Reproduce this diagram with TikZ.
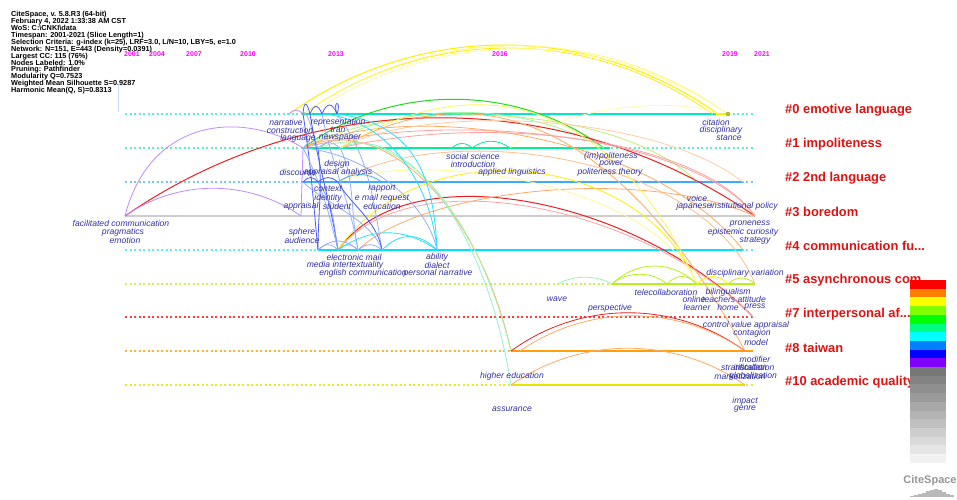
\documentclass[tikz,border=0pt]{standalone}
\usepackage{fontspec}
\setmainfont{Liberation Sans}
\usetikzlibrary{calc}
\definecolor{labblue}{RGB}{50,50,165}
\definecolor{clred}{RGB}{222,18,18}
\definecolor{yrmag}{RGB}{255,0,255}
\definecolor{laneA}{RGB}{0,232,200}
\definecolor{laneB}{RGB}{0,238,150}
\definecolor{laneC}{RGB}{60,170,255}
\definecolor{laneD}{RGB}{205,205,205}
\definecolor{laneE}{RGB}{0,225,255}
\definecolor{laneF}{RGB}{185,240,30}
\definecolor{laneG}{RGB}{245,30,30}
\definecolor{laneH}{RGB}{255,160,10}
\definecolor{laneI}{RGB}{230,230,0}
\definecolor{ayel}{RGB}{255,240,0}
\definecolor{ayel2}{RGB}{255,248,120}
\definecolor{agreen}{RGB}{30,220,30}
\definecolor{ared}{RGB}{240,30,30}
\definecolor{apink}{RGB}{255,160,160}
\definecolor{apurp}{RGB}{190,140,255}
\definecolor{aorange}{RGB}{255,170,100}
\definecolor{apgreen}{RGB}{160,245,170}
\definecolor{ablue}{RGB}{70,90,255}
\definecolor{albue}{RGB}{150,175,255}
\definecolor{acyan}{RGB}{40,225,255}
\begin{document}
\begin{tikzpicture}[x=1pt,y=-1pt,
  hdr/.style={anchor=west,inner sep=0pt,font=\fontsize{7.3}{7.5}\selectfont\bfseries},
  yr/.style={inner sep=0pt,text=yrmag,font=\fontsize{7}{7.5}\selectfont\bfseries},
  lab/.style={inner sep=0pt,text=labblue,font=\fontsize{8.6}{9}\selectfont\itshape},
  cl/.style={anchor=west,inner sep=0pt,text=clred,font=\fontsize{12.9}{14}\selectfont\bfseries},
  lanedash/.style={line width=1.05pt,dash pattern=on 2.4pt off 2.1pt},
  lanesolid/.style={line width=2pt},
  arc/.style={line width=0.8pt},
]
\useasboundingbox (0,0) rectangle (957,499);
\fill[white] (0,0) rectangle (957,499);

% header
\foreach \t [count=\i from 0] in {CiteSpace{,} v. 5.8.R3 (64-bit),
  February 4{,} 2022 1:33:38 AM CST,
  WoS: C:\textbackslash CNKI\textbackslash data,
  Timespan: 2001-2021 (Slice Length=1),
  Selection Criteria: g-index (k=25){,} LRF=3.0{,} L/N=10{,} LBY=5{,} e=1.0,
  Network: N=151{,} E=443 (Density=0.0391),
  Largest CC: 115 (76\%),
  Nodes Labeled: 1.0\%,
  Pruning: Pathfinder,
  Modularity Q=0.7523,
  Weighted Mean Silhouette S=0.9287,
  Harmonic Mean(Q{,} S)=0.8313}
  \node[hdr] (h\i) at (11,{14.5+6.95*\i}) {\t};

\draw[line width=1pt,color={rgb,255:red,200;green,220;blue,255}] (118,84) -- (118,112);

% years
\foreach \x/\t in {132/2001,157/2004,194/2007,248/2010,336/2013,500/2016,730/2019,762/2021}
  \node[yr] (yr\t) at (\x,54) {\t};

% lanes dashed
\draw[lanedash,laneA!65!white] (125,114) -- (755,114);
\draw[lanedash,laneB!65!white] (125,148) -- (755,148);
\draw[lanedash,laneC!70!white] (125,182) -- (755,182);
\draw[line width=1.6pt,laneD] (125,216) -- (755,216);
\draw[lanedash,laneE!65!white] (125,250) -- (755,250);
\draw[lanedash,laneF!75!white] (125,284) -- (755,284);
\draw[lanedash,laneG!85!white] (125,317) -- (755,317);
\draw[lanedash,laneH!80!white] (125,351) -- (755,351);
\draw[lanedash,laneI!85!white] (125,385) -- (755,385);
% lanes solid
\draw[lanesolid,laneA] (303,114) -- (716,114);
\draw[lanesolid,ayel] (716,114) -- (728,114);
\draw[lanesolid,laneB] (303,148) -- (610,148);
\draw[lanesolid,laneC] (303,182) -- (743,182);
\draw[lanesolid,laneE] (318,250) -- (743,250);
\draw[lanesolid,laneF] (612,284) -- (755,284);
\draw[lanesolid,laneH] (511,351) -- (753,351);
\draw[lanesolid,laneI] (511,385) -- (745,385);

% node points
\coordinate (fc) at (125,216);
\coordinate (a0) at (303,114); \coordinate (a0b) at (310,114);
\coordinate (a0c) at (322,114); \coordinate (a0d) at (337,114);
\coordinate (a0p) at (289,114);
\coordinate (a1) at (303,148); \coordinate (a1b) at (318,148); \coordinate (a1c) at (340,148);
\coordinate (a2) at (303,182); \coordinate (a2b) at (318,182);
\coordinate (a2c) at (338,182); \coordinate (a2d) at (382,182);
\coordinate (a3) at (301,216);
\coordinate (a4) at (318,250); \coordinate (a4b) at (338,250); \coordinate (a4c) at (358,250);
\coordinate (a4d) at (382,250); \coordinate (a4e) at (437,250);
\coordinate (cit) at (728,114); \coordinate (cit0) at (718,114); \coordinate (cit1) at (713,114);
\coordinate (ss0) at (452,148); \coordinate (ss) at (472,148); \coordinate (al) at (510,148);
\coordinate (imp) at (604,148);
\coordinate (voice) at (697,182); \coordinate (st2) at (743,182);
\coordinate (inst) at (755,216);
\coordinate (pron) at (743,250);
\coordinate (w5) at (558,284); \coordinate (t5) at (612,284); \coordinate (t5b) at (667,284);
\coordinate (bil) at (697,284); \coordinate (t5c) at (728,284); \coordinate (dv) at (755,284);
\coordinate (ctrl) at (753,317);
\coordinate (he) at (511,351); \coordinate (mod) at (745,351); \coordinate (mod2) at (520,351);
\coordinate (ha) at (511,385); \coordinate (imp10) at (745,385);

% big top arcs
\draw[arc,ayel,line width=1pt] (a0p) .. controls +(130,-92) and +(-130,-92) .. (cit0);
\draw[arc,ayel] (a0) .. controls +(125,-88) and +(-125,-88) .. (cit1);
\draw[arc,ayel2] (a0) .. controls +(128,-91) and +(-128,-91) .. (cit);
\draw[arc,color={rgb,255:red,255;green,250;blue,160}] (a0b) .. controls +(128,-87) and +(-128,-87) .. (cit);
\draw[arc,color={rgb,255:red,255;green,250;blue,175}] (al) .. controls +(40,-38) and +(-45,-20) .. (cit0);
% green
\draw[arc,agreen,line width=1pt] (a1) .. controls +(88,-65) and +(-88,-65) .. (imp);
\draw[arc,apgreen] (a1b) .. controls +(90,-50) and +(-80,-45) .. (imp);
\draw[arc,color={rgb,255:red,190;green,240;blue,120}] (a1) .. controls +(97,-53) and +(-77,-77) .. (voice);
% red big
\draw[arc,ared,line width=1pt] (fc) .. controls +(190,-131) and +(-190,-131) .. (inst);
\draw[arc,apink] (a1) .. controls +(150,-40) and +(-60,-80) .. (inst);
\draw[arc,apink] (a1c) .. controls +(150,-35) and +(-55,-78) .. (inst);
% purple
\draw[arc,apurp] (fc) .. controls (150,118) and (242,110) .. (a1);
\draw[arc,apurp] (fc) .. controls +(53,-37) and +(-53,-37) .. (a3);
\draw[arc,apurp] (a1) -- (a3);
\draw[arc,apurp] (a0p) .. controls +(4,-5) and +(-4,-5) .. (a0);
% red #4 -> #7
\draw[arc,ared,line width=1pt] (a4b) .. controls (410,150) and (640,200) .. (ctrl);
\draw[arc,apink] (a4b) .. controls (415,155) and (650,210) .. (ctrl);
% oranges
\draw[arc,aorange] (a1) .. controls (400,100) and (650,130) .. (pron);
\draw[arc,aorange] (a4c) .. controls (420,190) and (640,165) .. (inst);
\draw[arc,aorange] (a1) .. controls (385,110) and (480,210) .. (he);
\draw[arc,aorange] (a1c) .. controls (450,85) and (600,85) .. (mod);
\draw[arc,color={rgb,255:red,255;green,205;blue,165}] (a1c) .. controls (420,105) and (650,110) .. (st2);
\draw[arc,color={rgb,255:red,255;green,190;blue,140}] (a2c) .. controls (440,120) and (700,150) .. (dv);
% greens to bottom
\draw[arc,apgreen] (a1b) .. controls (395,118) and (475,205) .. (he);
\draw[arc,color={rgb,255:red,150;green,240;blue,210}] (a1c) .. controls (400,120) and (485,220) .. (ha);
% yellows
\draw[arc,ayel] (a4b) .. controls (420,130) and (640,150) .. (bil);
\draw[arc,color={rgb,255:red,255;green,245;blue,90}] (a1c) .. controls (450,80) and (600,70) .. (bil);
\draw[arc,color={rgb,255:red,255;green,250;blue,150}] (a2c) .. controls (420,150) and (650,180) .. (bil);
% bottom lanes
\draw[arc,ared] (he) .. controls +(70,-51) and +(-70,-51) .. (mod);
\draw[arc,aorange] (mod2) .. controls +(68,-47) and +(-68,-47) .. (mod);
\draw[arc,aorange] (ha) .. controls +(70,-49) and +(-70,-49) .. (imp10);
% #5 arcs
\draw[arc,apgreen] (w5) .. controls +(15,-9) and +(-15,-9) .. (t5);
\draw[arc,laneF] (t5) .. controls +(15,-13) and +(-15,-13) .. (t5b);
\draw[arc,laneF] (t5) .. controls +(25,-24) and +(-25,-24) .. (bil);
\draw[arc,laneF] (t5b) .. controls +(9,-10) and +(-9,-10) .. (bil);
\draw[arc,ayel] (bil) .. controls +(9,-10) and +(-9,-10) .. (t5c);
\draw[arc,laneF] (t5c) .. controls +(8,-8) and +(-8,-8) .. (dv);
% #1 small arcs
\draw[arc,laneB] (ss0) .. controls +(6,-6) and +(-6,-6) .. (ss);
\draw[arc,laneB] (ss) .. controls +(12,-9) and +(-12,-9) .. (al);
% left cluster: top loops
\draw[arc,ablue] (a0) .. controls +(1,-14) and +(-3,-12) .. (a0b);
\draw[arc,ablue] (a0b) .. controls +(4,-10) and +(-4,-10) .. (a0c);
\draw[arc,ablue] (a0c) .. controls +(5,-12) and +(-5,-12) .. (a0d);
\draw[arc,ablue] (a0d) .. controls +(-5,-14) and +(5,-14) .. (a0d);
\draw[arc,albue] (a0) .. controls +(4,-8) and +(-4,-8) .. (a1b);
% cluster connections
\draw[arc,ablue] (a0) .. controls +(8,50) and +(-5,-50) .. (a4);
\draw[arc,ablue] (a0b) .. controls +(10,60) and +(-8,-50) .. (a4b);
\draw[arc,albue] (a0c) .. controls +(12,60) and +(-8,-50) .. (a4c);
\draw[arc,albue] (a0d) .. controls +(30,40) and +(-10,-60) .. (a4d);
\draw[arc,albue] (a1) .. controls +(20,40) and +(-10,-40) .. (a4b);
\draw[arc,ablue] (a1b) .. controls +(5,40) and +(0,-40) .. (a4);
\draw[arc,albue] (a1c) .. controls +(15,30) and +(-8,-40) .. (a4c);
\draw[arc,albue] (a2) .. controls +(20,20) and +(-10,-30) .. (a4d);
\draw[arc,color={rgb,255:red,120;green,150;blue,255}] (a2b) .. controls +(15,20) and +(-5,-30) .. (a4b);
\draw[arc,ablue] (a2c) .. controls +(10,20) and +(-5,-30) .. (a4d);
\draw[arc,acyan] (a0c) .. controls +(70,5) and +(-5,-60) .. (a4e);
\draw[arc,acyan] (a0d) .. controls +(80,10) and +(-3,-70) .. (a4e);
\draw[arc,albue] (a1) .. controls +(60,5) and +(-10,-50) .. (a4e);
% #2 small arcs
\draw[arc,ablue] (a2) .. controls +(6,-6) and +(-6,-6) .. (a2b);
\draw[arc,ablue] (a2b) .. controls +(8,-6) and +(-8,-6) .. (a2c);
\draw[arc,laneC] (a2c) .. controls +(15,-10) and +(-15,-10) .. (a2d);
% #1 small arcs left
\draw[arc,albue] (a1) .. controls +(6,-7) and +(-6,-7) .. (a1b);
\draw[arc,albue] (a1b) .. controls +(8,-7) and +(-8,-7) .. (a1c);
% #4 small arcs
\draw[arc,albue] (a4) .. controls +(7,-7) and +(-7,-7) .. (a4b);
\draw[arc,albue] (a4b) .. controls +(7,-7) and +(-7,-7) .. (a4c);
\draw[arc,albue] (a4c) .. controls +(8,-7) and +(-8,-7) .. (a4d);
\draw[arc,albue] (a4) .. controls +(14,-12) and +(-14,-12) .. (a4c);
\draw[arc,acyan] (a4d) .. controls +(18,-18) and +(-18,-18) .. (a4e);
\draw[arc,acyan] (a4b) .. controls +(33,-23) and +(-33,-23) .. (a4e);

\fill[color={rgb,255:red,170;green,190;blue,40}] (cit) circle (2.3);

% labels
\foreach \x/\y/\t [count=\k] in {
  286/122/narrative, 290/130/construction, 298/138/language,
  338/122/representation, 338/130/tran, 340/138/newspaper,
  337/164/design, 298/172/discourse, 338/172/appraisal analysis,
  328/189/context, 328/198/identity, 301/206/appraisal, 337/206/student,
  382/189/rapport, 382/198/e mail request, 382/206/education,
  121/223/facilitated communication, 123/232/pragmatics, 125/240/emotion,
  302/232/sphere, 302/240/audience,
  354/257/electronic mail, 345/265/media intertextuality, 363/273/english communication,
  437/257/ability, 437/265/dialect, 438/273/personal narrative,
  716/122/citation, 721/130/disciplinary, 729/138/stance,
  473/156/social science, 473/164/introduction, 512/172/applied linguistics,
  611/156/(im)politeness, 611/164/power, 610/172/politeness theory,
  697/198/voice, 694/206/japanese, 744/206/institutional policy,
  750/224/proneness, 743/232/epistemic curiosity, 755/241/strategy,
  745/273/disciplinary variation,
  666/292/telecollaboration, 728/292/bilingualism,
  694/299/online, 734/299/teachers attitude,
  697/307/learner, 728/307/home, 755/307/press,
  557/299/wave, 610/308/perspective,
  746/325/control value appraisal, 752/333/contagion, 756/342/model,
  755/359/modifier, 744/367/stratification, 754/367/installation,
  740/376/marketization, 753/376/globalization,
  512/376/higher education, 512/409/assurance,
  745/401/impact, 745/409/genre}
  \node[lab] (lb\k) at (\x,\y) {\t};

% cluster labels
\foreach \y/\t [count=\k] in {110.5/{\#0 emotive language},144.3/{\#1 impoliteness},178/{\#2 2nd language},
  212/{\#3 boredom},246/{\#4 communication fu...},280/{\#5 asynchronous com},
  314/{\#7 interpersonal af...},348/{\#8 taiwan},382/{\#10 academic quality}}
  \node[cl] (cl\k) at (785,\y) {\t};

% legend
\foreach \r/\g/\b [count=\i from 0] in {255/0/0,255/128/0,255/255/0,128/255/0,0/255/0,0/255/128,0/255/255,0/128/255,0/0/255,128/0/255}
  \fill[color={rgb,255:red,\r;green,\g;blue,\b}] (910,{280+8.7*\i}) rectangle (946,{280+8.7*(\i+1)+0.2});
\foreach \i in {0,...,10}{
  \pgfmathtruncatemacro\gv{119+12.3*\i}
  \fill[color={rgb,255:red,\gv;green,\gv;blue,\gv}] (910,{367+8.7*\i}) rectangle (946,{367+8.7*(\i+1)+0.2});
}
\node[inner sep=0pt,text={rgb,255:red,150;green,150;blue,150},font=\fontsize{11}{12}\selectfont\bfseries] (logo) at (930,481) {CiteSpace};
\foreach \x/\h [count=\i] in {910/1,914/2,918/3,922/4,926/6,930/7,934/8,938/7,942/5,946/3,950/2}
  \fill[color={rgb,255:red,185;green,185;blue,185}] (\x,497) rectangle +(4,-\h);
\end{tikzpicture}
\end{document}
